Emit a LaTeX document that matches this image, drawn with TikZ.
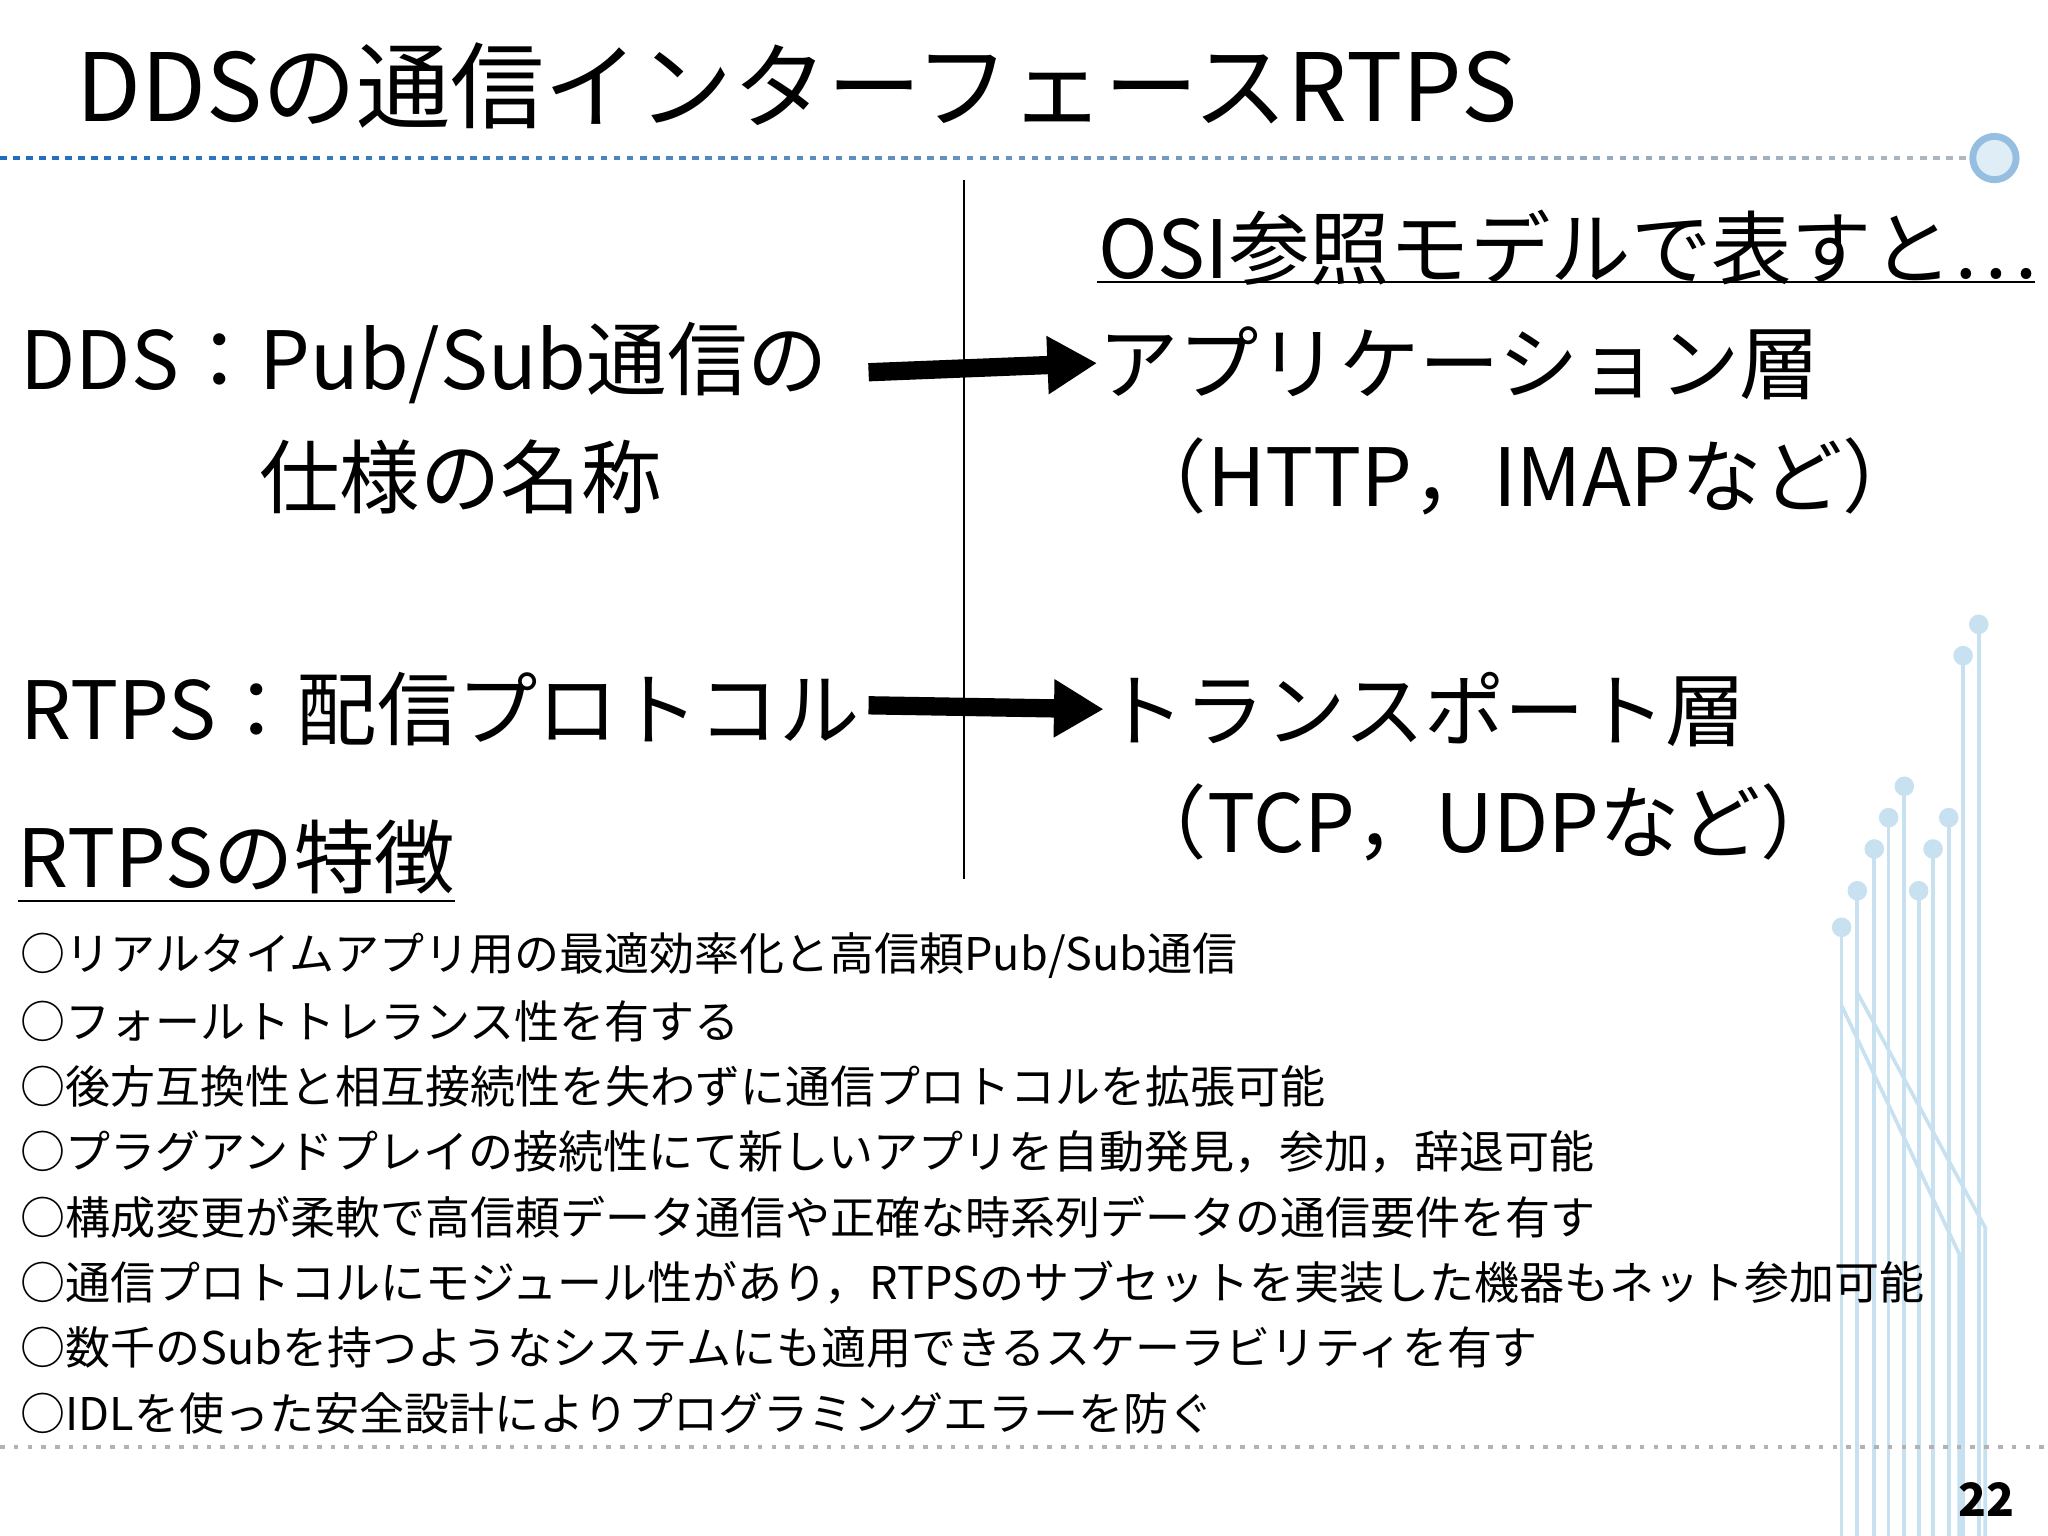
\documentclass[tikz,border=0pt]{standalone}
\usepackage{fontspec}
\setmainfont{Noto Sans CJK JP}
\usetikzlibrary{arrows.meta}
\definecolor{lb}{RGB}{200,225,240}
\definecolor{db}{RGB}{30,110,190}
\begin{document}
\begin{tikzpicture}[x=0.01cm,y=-0.01cm,
  big/.style={anchor=west,inner sep=0,font=\fontsize{17.5}{20}\selectfont},
  small/.style={anchor=west,inner sep=0,font=\fontsize{9.8}{12}\selectfont},
  arr/.style={line width=1.4mm,-{Triangle[length=3.8mm,width=4.2mm]}},
  circ/.style={lb,line width=0.8pt},
  dotc/.style={circle,fill=lb,inner sep=0,minimum size=1.5mm}]
\useasboundingbox (0,0) rectangle (1568,1176);
% circuit decoration
\foreach \x/\y/\yb in {1410/710/1176,1422/682/1176,1435/650/1176,1446/626/1176,1458/602/1176,1469/682/1176,1480/650/1176,1492/626/1176,1503/502/1176,1515/478/1176}{
  \draw[circ] (\x,\y) -- (\x,\yb);
  \node[dotc] at (\x,\y) {};}
\draw[circ] (1410,770) -- (1500,960) -- (1500,1176);
\draw[circ] (1422,760) -- (1520,940) -- (1520,1176);
% title
\node[anchor=west,inner sep=0,font=\fontsize{20.5}{24}\selectfont] (title) at (58,66) {DDSの通信インターフェースRTPS};
\foreach \i in {0,...,150}{
  \pgfmathsetmacro\m{100-\i*0.6}
  \fill[db!\m!lightgray] (\i*10,119.5) rectangle ++(5,3);}
\node[circle,draw=lb!70!db,fill=lb!60!white,line width=1.5pt,minimum size=3.2mm] (ball) at (1527,121) {};
\draw[gray!60,dotted,line width=1pt] (0,1108) -- (1568,1108);
\draw (738,138) -- (738,673);
% left
\node[big] (dds) at (15,278) {DDS：Pub/Sub通信の};
\node[big] (spec) at (198,365) {仕様の名称};
\node[big] (rtps) at (15,543) {RTPS：配信プロトコル};
\node[big] (feat) at (13,660) {\underline{RTPSの特徴}};
% right
\node[big] (osi) at (840,190) {OSI参照モデルで表すと…};
\draw (840,216) -- (1558,216);
\node[big] (app) at (840,278) {アプリケーション層};
\node[big] (http) at (862,365) {（HTTP，IMAPなど）};
\node[big] (tr) at (845,543) {トランスポート層};
\node[big] (tcp) at (862,630) {（TCP，UDPなど）};
\draw[arr] (665,285) -- (app.west);
\draw[arr] (665,540) -- (tr.west);
% list
\foreach \t [count=\i from 0] in {
 ○リアルタイムアプリ用の最適効率化と高信頼Pub/Sub通信,
 ○フォールトトレランス性を有する,
 ○後方互換性と相互接続性を失わずに通信プロトコルを拡張可能,
 {○プラグアンドプレイの接続性にて新しいアプリを自動発見，参加，辞退可能},
 ○構成変更が柔軟で高信頼データ通信や正確な時系列データの通信要件を有す,
 {○通信プロトコルにモジュール性があり，RTPSのサブセットを実装した機器もネット参加可能},
 ○数千のSubを持つようなシステムにも適用できるスケーラビリティを有す,
 ○IDLを使った安全設計によりプログラミングエラーを防ぐ}
 \node[small] (l\i) at (15,732+\i*50) {\t};
\node[anchor=east,inner sep=0,font=\fontsize{10}{12}\selectfont\bfseries] (pg) at (1543,1148) {22};
\end{tikzpicture}
\end{document}
